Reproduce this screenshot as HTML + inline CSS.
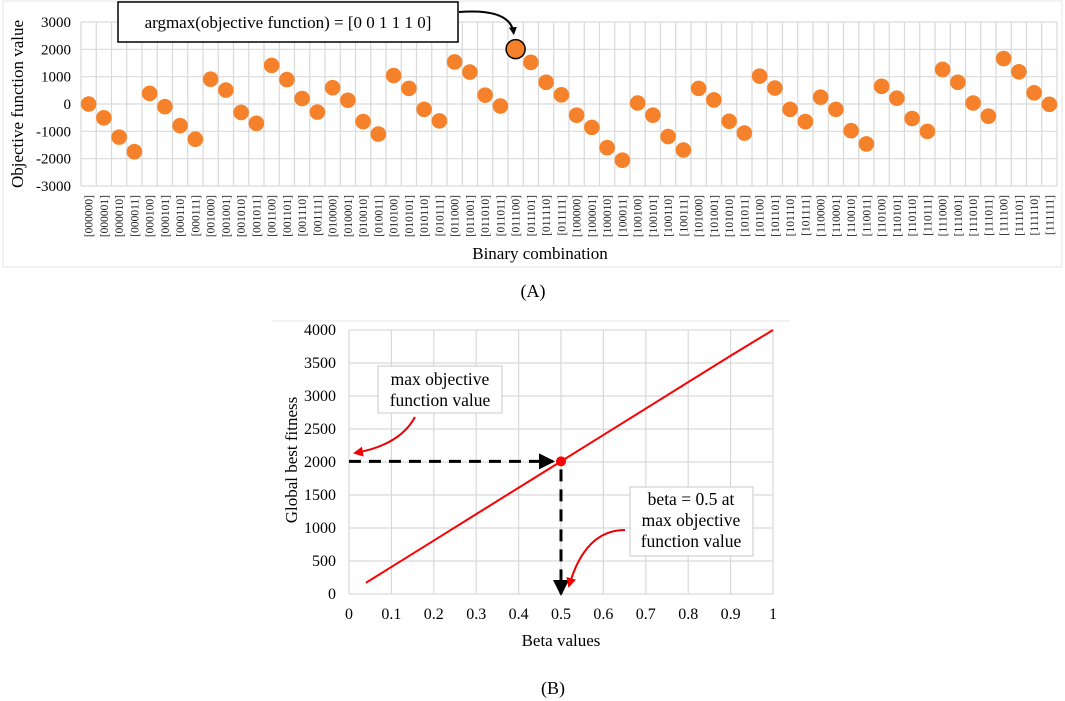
<!DOCTYPE html>
<html><head><meta charset="utf-8"><style>
body{margin:0;background:#fff;width:1065px;height:701px;overflow:hidden;font-family:"Liberation Serif",serif}
svg{position:absolute;left:0;top:0}
</style></head><body>
<svg width="1065" height="701" viewBox="0 0 1065 701" font-family="Liberation Serif, serif">
<defs>
<marker id="ahb" markerWidth="8" markerHeight="8" refX="6" refY="4" orient="auto" markerUnits="userSpaceOnUse"><path d="M0,0 L8,4 L0,8 z" fill="#000"/></marker>
<marker id="ahr" markerWidth="10" markerHeight="10" refX="8" refY="5" orient="auto" markerUnits="userSpaceOnUse"><path d="M0,0 L10,5 L0,10 z" fill="#e00"/></marker>
<marker id="ahk" markerWidth="18" markerHeight="16" refX="14" refY="8" orient="auto" markerUnits="userSpaceOnUse"><path d="M0,0 L16,8 L0,16 z" fill="#000"/></marker>
</defs>
<rect x="3" y="1" width="1059" height="266" fill="none" stroke="#e6e6e6"/>
<g id="chartA"></g>
<line x1="272" y1="321" x2="790" y2="321" stroke="#e6e6e6"/>
<g id="chartB"></g>
<text x="533" y="297" font-size="18" text-anchor="middle">(A)</text>
<text x="553" y="694" font-size="18" text-anchor="middle">(B)</text>
</svg>
<script>
const NS="http://www.w3.org/2000/svg";
// ---- Chart A data ----
const aValues=[0,-507,-1212,-1745,387,-97,-792,-1288,906,509,-309,-706,1413,893,200,-297,595,137,-643,-1100,1041,572,-197,-617,1539,1167,323,-74,2007,1524,795,335,-409,-855,-1598,-2056,37,-409,-1190,-1684,572,149,-632,-1063,1019,584,-197,-643,249,-197,-978,-1461,647,212,-532,-1003,1264,795,37,-446,1662,1178,409,-12];
const aTicks=[3000,2000,1000,0,-1000,-2000,-3000];
const aHighlight=28;
// ---- Chart B data ----
const bBetas=[0.04,0.1,0.2,0.3,0.4,0.5,0.6,0.7,0.8,0.9,1.0];
const bValues=[170,410,810,1210,1610,2010,2410,2810,3210,3610,4000];
const bYTicks=[0,500,1000,1500,2000,2500,3000,3500,4000];
const bXTicks=[0,0.1,0.2,0.3,0.4,0.5,0.6,0.7,0.8,0.9,1];
const bMaxBeta=0.5, bMaxVal=2010;

function el(tag,attrs,parent){const e=document.createElementNS(NS,tag);for(const k in attrs)e.setAttribute(k,attrs[k]);parent.appendChild(e);return e;}
function bin(i){return "["+i.toString(2).padStart(6,"0")+"]";}

// Chart A
(function(){
const g=document.getElementById('chartA');
const L=81,R=1057,T=22,B=186,n=aValues.length,cw=(R-L)/n;
const x=i=>L+cw*(i+0.5);
const y=v=>T+(3000-v)/6000*(B-T);
for(const t of aTicks){
 const l=el('line',{x1:L,x2:R,y1:y(t),y2:y(t),stroke:'#d9d9d9','stroke-width':1.2},g);
 
 
 const tx=el('text',{x:71,y:y(t)+5,'font-size':15,'text-anchor':'end'},g);tx.textContent=t;
 
 
}
for(let i=0;i<=n;i++){
 const l=el('line',{x1:L+cw*i,x2:L+cw*i,y1:T,y2:B,stroke:'#d9d9d9','stroke-width':1.2},g);
 
 
}
for(let i=0;i<n;i++){
 const tx=el('text',{transform:`translate(${x(i)+4},195) rotate(-90)`,'font-size':11.5,'text-anchor':'end',fill:'#222'},g);
 tx.textContent=bin(i);
 
 
}
for(let i=0;i<n;i++){
 const hl=i===aHighlight;
 const c=el('circle',{cx:x(i),cy:y(aValues[i]),r:hl?9.5:7.8,fill:'#f5822a',stroke:hl?'#000':'none','stroke-width':1.5},g);
 
 
}
const yt=el('text',{transform:'translate(23,104) rotate(-90)','font-size':17,'text-anchor':'middle'},g);yt.textContent='Objective function value';


const xt=el('text',{x:540,y:259,'font-size':17,'text-anchor':'middle'},g);xt.textContent='Binary combination';


const bx=el('rect',{x:118,y:2,width:340,height:40,fill:'#fff',stroke:'#000','stroke-width':1.5},g);


const at=el('text',{x:288,y:28,'font-size':17,'text-anchor':'middle'},g);at.textContent='argmax(objective function) = [0 0 1 1 1 0]';


const hx=x(aHighlight),hy=y(aValues[aHighlight]);
const ar=el('path',{d:`M459,12 Q${hx-5},8 ${hx-2},${hy-16}`,fill:'none',stroke:'#000','stroke-width':2,'marker-end':'url(#ahb)'},g);


})();

// Chart B
(function(){
const g=document.getElementById('chartB');
const L=349,R=773,T=330,B=594;
const x=v=>L+v*(R-L);
const y=v=>B-v/4000*(B-T);
for(const t of bYTicks){
 const l=el('line',{x1:L,x2:R,y1:y(t),y2:y(t),stroke:'#d9d9d9','stroke-width':1.2},g);
 
 
 const tx=el('text',{x:336,y:y(t)+5,'font-size':16,'text-anchor':'end'},g);tx.textContent=t;
 
 
}
for(const t of bXTicks){
 const l=el('line',{x1:x(t),x2:x(t),y1:T,y2:B,stroke:'#d9d9d9','stroke-width':1.2},g);
 
 
 const tx=el('text',{x:x(t),y:619,'font-size':16,'text-anchor':'middle'},g);tx.textContent=t;
 
 
}
const pts=bBetas.map((b,i)=>x(b)+','+y(bValues[i])).join(' ');
const pl=el('polyline',{points:pts,fill:'none',stroke:'#f00','stroke-width':2},g);


const mx=x(bMaxBeta),my=y(bMaxVal);
const h=el('line',{x1:L,y1:my,x2:mx-8,y2:my,stroke:'#000','stroke-width':3,'stroke-dasharray':'12,8','marker-end':'url(#ahk)'},g);


const v=el('line',{x1:mx,y1:my+8,x2:mx,y2:B,stroke:'#000','stroke-width':3,'stroke-dasharray':'12,8','marker-end':'url(#ahk)'},g);


const c=el('circle',{cx:mx,cy:my,r:5,fill:'#f00'},g);


const yt=el('text',{transform:'translate(297,460) rotate(-90)','font-size':17,'text-anchor':'middle'},g);yt.textContent='Global best fitness';


const xt=el('text',{x:561,y:646,'font-size':17,'text-anchor':'middle'},g);xt.textContent='Beta values';


const b1=el('rect',{x:378,y:366,width:124,height:47,fill:'#fff',stroke:'#c8c8c8'},g);


const t1=el('text',{x:440,y:385,'font-size':17.5,'text-anchor':'middle'},g);t1.innerHTML='<tspan x="440">max objective</tspan><tspan x="440" dy="21">function value</tspan>';


const b2=el('rect',{x:630,y:487,width:123,height:69,fill:'#fff',stroke:'#c8c8c8'},g);


const t2=el('text',{x:691,y:505,'font-size':17.5,'text-anchor':'middle'},g);t2.innerHTML='<tspan x="691">beta = 0.5 at</tspan><tspan x="691" dy="21">max objective</tspan><tspan x="691" dy="21">function value</tspan>';


const r1=el('path',{d:'M415,417 Q400,445 355,453',fill:'none',stroke:'#e00','stroke-width':2,'marker-end':'url(#ahr)'},g);


const r2=el('path',{d:'M625,530 Q585,530 569,586',fill:'none',stroke:'#e00','stroke-width':2,'marker-end':'url(#ahr)'},g);


})();
</script>
</body></html>
